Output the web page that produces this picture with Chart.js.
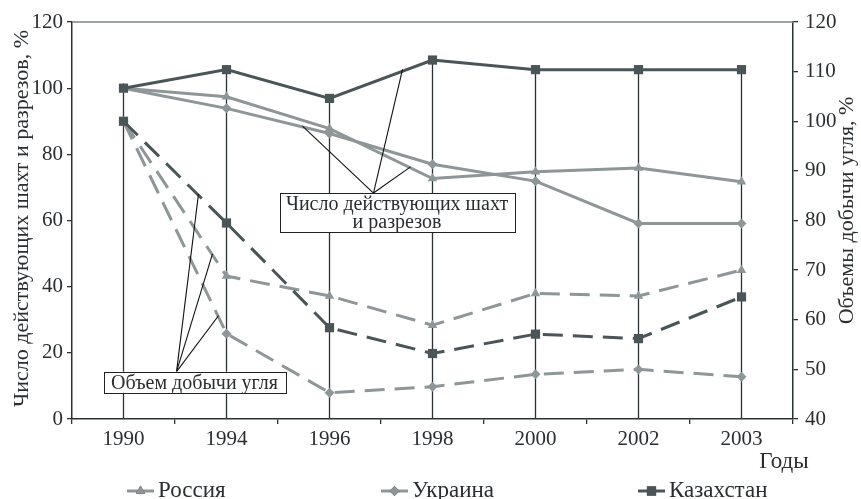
<!DOCTYPE html>
<html><head><meta charset="utf-8">
<script src="https://cdn.jsdelivr.net/npm/chart.js@4/dist/chart.umd.min.js"></script>
<style>html,body{margin:0;padding:0;background:#fff;}canvas{display:block;}</style>
</head><body>
<canvas id="c" width="861" height="499"></canvas>
<script>
// ---- data ----
const years = ['1990', '1994', '1996', '1998', '2000', '2002', '2003'];
const countries = ['Россия', 'Украина', 'Казахстан'];
// number of operating mines (left axis, %)
const minesRussia     = [100, 97.4, 87.8, 72.7, 74.7, 75.9, 71.7];
const minesUkraine    = [100, 93.9, 86.3, 77.0, 71.9, 59.1, 59.1];
const minesKazakhstan = [100, 105.6, 96.9, 108.5, 105.6, 105.6, 105.6];
// coal output volume (right axis, %)
const outputRussia     = [100, 68.8, 64.8, 58.9, 65.3, 64.8, 70.0];
const outputUkraine    = [100, 57.2, 45.3, 46.5, 49.0, 50.0, 48.5];
const outputKazakhstan = [100, 79.5, 58.4, 53.2, 57.1, 56.2, 64.6];
const leftTicks = [0, 20, 40, 60, 80, 100, 120];
const rightTicks = [40, 50, 60, 70, 80, 90, 100, 110, 120];
const leftTitle = 'Число действующих шахт и разрезов, %';
const rightTitle = 'Объемы добычи угля, %';
const xTitle = 'Годы';
const noteMines = ['Число действующих шахт', 'и разрезов'];
const noteOutput = ['Объем добычи угля'];

// ---- styles ----
const FONT = '"Liberation Serif", "Times New Roman", serif';
const DARK = '#4a5558';
const GRAY = '#8e9698';
const AX = '#2c3134';
const TXT = '#2a2e30';

// annotation geometry in scale units (category index, left-axis value)
const notes = [
  { text: noteMines, box: [1.515, 3.796, 56.5, 68.3], apex: [2.427, 68.3],
    ends: [[1.738, 88.5], [2.709, 105.7], [2.786, 76.2]] },
  { text: noteOutput, box: [-0.194, 1.573, 7.9, 14.3], apex: [0.515, 14.3],
    ends: [[0.728, 68.0], [0.864, 49.9], [0.922, 31.2]] }
];

function mk(label, data, color, style, axis, dashed, radius) {
  return {
    label, data, yAxisID: axis,
    borderColor: color, backgroundColor: color,
    borderWidth: 3, borderDash: dashed ? [20, 10] : [],
    pointStyle: style, pointRadius: radius, pointHoverRadius: radius,
    pointBorderWidth: 0, tension: 0, fill: false, clip: false
  };
}

const datasets = [
  mk(countries[2], minesKazakhstan, DARK, 'rect', 'y', false, 6.5),
  mk(countries[0], minesRussia, GRAY, 'triangle', 'y', false, 5.5),
  mk(countries[1], minesUkraine, GRAY, 'rectRot', 'y', false, 5),
  mk(countries[2] + ' ', outputKazakhstan, DARK, 'rect', 'y1', true, 6.5),
  mk(countries[0] + ' ', outputRussia, GRAY, 'triangle', 'y1', true, 5.5),
  mk(countries[1] + ' ', outputUkraine, GRAY, 'rectRot', 'y1', true, 5)
];

const decor = {
  id: 'decor',
  beforeDatasetsDraw(chart) {
    const c = chart.ctx, a = chart.chartArea;
    c.save();
    // top border
    c.strokeStyle = '#7d8385'; c.lineWidth = 1.5;
    c.beginPath(); c.moveTo(a.left, a.top); c.lineTo(a.right, a.top); c.stroke();
    // drop lines from the highest point of each year
    c.strokeStyle = AX; c.lineWidth = 1.3;
    const x = chart.scales.x;
    years.forEach((yr, i) => {
      let top = a.bottom;
      chart.data.datasets.forEach(ds => {
        const py = chart.scales[ds.yAxisID].getPixelForValue(ds.data[i]);
        if (py < top) top = py;
      });
      const px = x.getPixelForValue(i);
      c.beginPath(); c.moveTo(px, top); c.lineTo(px, a.bottom); c.stroke();
    });
    c.restore();
  },
  afterDatasetsDraw(chart) {
    const c = chart.ctx, x = chart.scales.x, y = chart.scales.y;
    c.save();
    notes.forEach(n => {
      const ax = x.getPixelForValue(n.apex[0]), ay = y.getPixelForValue(n.apex[1]);
      c.strokeStyle = '#111'; c.lineWidth = 1.1;
      n.ends.forEach(e => {
        c.beginPath(); c.moveTo(ax, ay);
        c.lineTo(x.getPixelForValue(e[0]), y.getPixelForValue(e[1])); c.stroke();
      });
      const x0 = x.getPixelForValue(n.box[0]), x1 = x.getPixelForValue(n.box[1]);
      const y0 = y.getPixelForValue(n.box[3]), y1 = y.getPixelForValue(n.box[2]);
      c.fillStyle = '#fff'; c.fillRect(x0, y0, x1 - x0, y1 - y0);
      c.strokeStyle = '#222'; c.lineWidth = 1;
      c.strokeRect(Math.round(x0) + 0.5, Math.round(y0) + 0.5, Math.round(x1 - x0), Math.round(y1 - y0));
      c.fillStyle = TXT; c.font = '20px ' + FONT; c.textAlign = 'center'; c.textBaseline = 'middle';
      const lh = 17.5, cy = (y0 + y1) / 2, cx = (x0 + x1) / 2;
      n.text.forEach((t, k) => {
        c.fillText(t, cx, cy + (k - (n.text.length - 1) / 2) * lh + 1);
      });
    });
    c.restore();
  },
  afterDraw(chart) {
    const c = chart.ctx, a = chart.chartArea, W = chart.width;
    c.save();
    c.fillStyle = TXT; c.textBaseline = 'middle';
    c.font = '22px ' + FONT;
    // axis titles
    const midY = (a.top + a.bottom) / 2;
    c.textAlign = 'center';
    c.save(); c.translate(22, midY - 2); c.rotate(-Math.PI / 2); c.fillText(leftTitle, 0, 0); c.restore();
    c.save(); c.translate(W - 14, midY - 10); c.rotate(-Math.PI / 2); c.fillText(rightTitle, 0, 0); c.restore();
    c.font = '23px ' + FONT;
    c.fillText(xTitle, a.right - 9, 462);
    // legend
    const items = [
      { ds: datasets[1], x: 127 },
      { ds: datasets[2], x: 381 },
      { ds: datasets[0], x: 638 }
    ];
    const ly = 491;
    items.forEach(it => {
      const ds = it.ds;
      c.strokeStyle = ds.borderColor; c.lineWidth = 3; c.setLineDash([]);
      c.beginPath(); c.moveTo(it.x, ly); c.lineTo(it.x + 27, ly); c.stroke();
      Chart.helpers.drawPoint(c, { pointStyle: ds.pointStyle, radius: ds.pointRadius, borderWidth: 0 }, it.x + 13.5, ly);
      c.fillStyle = ds.backgroundColor; c.fill();
      c.fillStyle = TXT; c.textAlign = 'left';
      c.font = '23px ' + FONT;
      c.fillText(ds.label.trim(), it.x + 31, ly);
    });
    c.restore();
  }
};

new Chart(document.getElementById('c'), {
  type: 'line',
  data: { labels: years, datasets },
  plugins: [decor],
  options: {
    responsive: false,
    animation: false,
    events: [],
    layout: { padding: { top: 22, left: 0, right: 0, bottom: 0 } },
    plugins: { legend: { display: false }, tooltip: { enabled: false } },
    scales: {
      x: {
        type: 'category', offset: true,
        afterFit(s) { s.height = 80; },
        grid: { offset: true, drawOnChartArea: false, tickLength: 5, color: AX, lineWidth: 1.3 },
        border: { color: AX, width: 1.5 },
        ticks: { autoSkip: false, maxRotation: 0, padding: 3, color: TXT, font: { family: FONT, size: 21 } }
      },
      y: {
        position: 'left', min: 0, max: 120,
        afterFit(s) { s.width = 72; },
        afterBuildTicks(s) { s.ticks = leftTicks.map(v => ({ value: v })); },
        grid: { drawOnChartArea: false, tickLength: 5, color: AX, lineWidth: 1.3 },
        border: { color: AX, width: 1.5 },
        ticks: { padding: 4, color: TXT, font: { family: FONT, size: 21 } }
      },
      y1: {
        position: 'right', min: 40, max: 120,
        afterFit(s) { s.width = 68; },
        afterBuildTicks(s) { s.ticks = rightTicks.map(v => ({ value: v })); },
        grid: { drawOnChartArea: false, tickLength: 5, color: AX, lineWidth: 1.3 },
        border: { color: AX, width: 1.5 },
        ticks: { padding: 7, color: TXT, font: { family: FONT, size: 21 } }
      }
    }
  }
});
</script>
</body></html>
